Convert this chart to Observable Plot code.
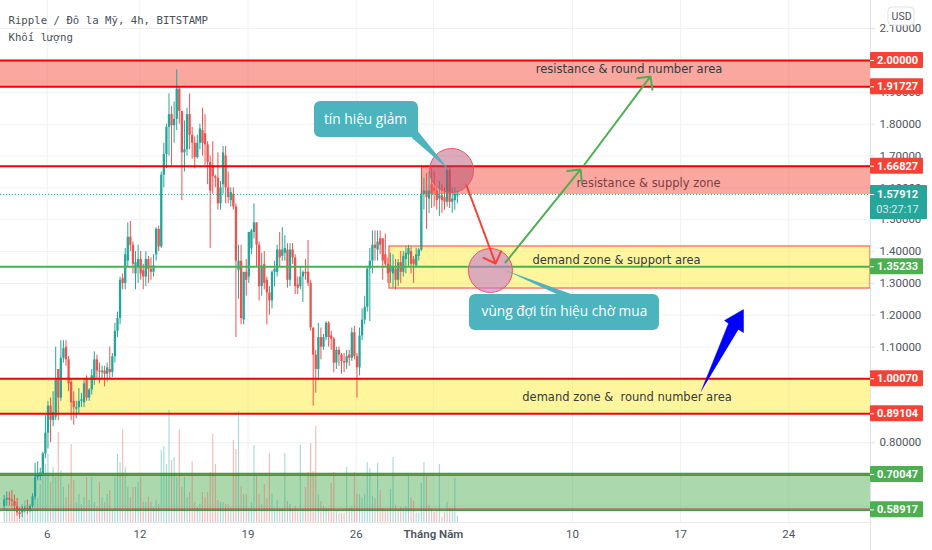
<!DOCTYPE html>
<html>
<head>
<meta charset="utf-8">
<script src="https://cdn.jsdelivr.net/npm/d3@7"></script>
<script src="https://cdn.jsdelivr.net/npm/@observablehq/plot@0.6"></script>
<style>html,body{margin:0;padding:0;background:#fff}svg{display:block}</style>
</head>
<body>
<div id="chart"></div>
<script>
const firstDay = 6 - 16.7 / 6;
const barsPerDay = 6;
const opens = [
.60,.62,.625,.62,.615,.60,.58,.58,.59,.592,
.585,.60,.63,.69,.695,.70,.765,.83,.915,.87,
.88,1.03,.94,1.065,1.10,1.06,.99,.93,.905,.91,
.93,.925,1.00,.94,.965,.995,1.06,1.025,1.02,1.025,
1.015,1.03,1.02,1.07,1.15,1.19,1.315,1.30,1.37,1.445,
1.42,1.33,1.35,1.375,1.34,1.32,1.375,1.345,1.335,1.39,
1.47,1.415,1.64,1.705,1.79,1.83,1.795,1.815,1.91,1.84,
1.71,1.72,1.83,1.765,1.74,1.695,1.74,1.78,1.77,1.735,
1.68,1.67,1.635,1.63,1.55,1.61,1.70,1.60,1.56,1.58,
1.54,1.34,1.37,1.185,1.335,1.32,1.41,1.46,1.49,1.42,
1.29,1.36,1.31,1.27,1.245,1.335,1.335,1.405,1.385,1.395,
1.405,1.31,1.405,1.38,1.295,1.29,1.32,1.335,1.335,1.30,
1.16,1.075,1.03,1.13,1.10,1.13,1.175,1.135,1.125,1.05,
1.09,1.075,1.055,1.05,1.075,1.065,1.145,1.07,1.035,1.135,
1.185,1.225,1.345,1.37,1.42,1.405,1.44,1.44,1.39,1.36,
1.335,1.33,1.345,1.31,1.365,1.335,1.375,1.39,1.40,1.375,
1.355,1.385,1.405,1.58,1.59,1.565,1.61,1.60,1.59,1.565,
1.575,1.57,1.555,1.655,1.555,1.56,1.575];
const closes = [
.62,.625,.62,.615,.60,.58,.575,.59,.592,.585,
.60,.63,.69,.70,.705,.765,.83,.915,.87,.895,
1.00,.94,1.065,1.095,1.06,.985,.925,.91,.91,.93,
.935,.985,.94,.965,1.01,1.06,1.025,1.022,1.025,1.015,
1.035,1.02,1.07,1.15,1.19,1.31,1.30,1.39,1.445,1.42,
1.36,1.365,1.375,1.33,1.32,1.375,1.345,1.335,1.355,1.47,
1.415,1.64,1.705,1.79,1.83,1.795,1.815,1.91,1.84,1.71,
1.72,1.83,1.765,1.74,1.695,1.74,1.785,1.74,1.735,1.68,
1.59,1.635,1.63,1.55,1.60,1.71,1.60,1.57,1.585,1.54,
1.37,1.37,1.19,1.335,1.31,1.46,1.465,1.49,1.42,1.29,
1.355,1.30,1.27,1.245,1.335,1.345,1.405,1.38,1.405,1.41,
1.31,1.405,1.38,1.29,1.285,1.32,1.335,1.33,1.30,1.16,
1.075,1.03,1.13,1.10,1.13,1.175,1.13,1.125,1.05,1.09,
1.075,1.055,1.05,1.07,1.065,1.145,1.07,1.035,1.135,1.185,
1.225,1.345,1.37,1.42,1.41,1.43,1.42,1.37,1.36,1.33,
1.355,1.35,1.31,1.365,1.335,1.385,1.395,1.41,1.36,1.36,
1.39,1.405,1.58,1.59,1.57,1.59,1.58,1.59,1.56,1.575,
1.56,1.555,1.655,1.555,1.565,1.58,1.579];
const highs = [
.635,.645,.645,.65,.635,.625,.595,.60,.60,.62,
.605,.64,.735,.74,.72,.77,.885,.93,.94,.96,
1.10,1.03,1.12,1.12,1.12,1.07,1.00,.96,.93,.97,
.955,1.00,1.01,.97,1.03,1.085,1.075,1.05,1.04,1.04,
1.05,1.10,1.08,1.175,1.21,1.32,1.33,1.41,1.49,1.495,
1.43,1.40,1.42,1.40,1.36,1.40,1.385,1.38,1.39,1.475,
1.48,1.65,1.74,1.80,1.895,1.855,1.87,1.97,1.915,1.84,
1.81,1.85,1.895,1.79,1.76,1.765,1.80,1.85,1.83,1.745,
1.70,1.745,1.64,1.71,1.62,1.73,1.73,1.65,1.60,1.60,
1.55,1.42,1.42,1.335,1.375,1.46,1.47,1.55,1.49,1.43,
1.395,1.40,1.32,1.29,1.34,1.37,1.42,1.46,1.475,1.45,
1.425,1.425,1.425,1.39,1.32,1.35,1.34,1.375,1.435,1.31,
1.16,1.09,1.175,1.16,1.14,1.18,1.18,1.15,1.13,1.10,
1.10,1.08,1.08,1.09,1.09,1.16,1.165,1.08,1.16,1.22,
1.26,1.35,1.41,1.465,1.465,1.465,1.465,1.44,1.455,1.38,
1.395,1.39,1.375,1.375,1.40,1.40,1.415,1.42,1.415,1.385,
1.41,1.41,1.59,1.63,1.645,1.65,1.66,1.65,1.60,1.62,
1.61,1.60,1.665,1.665,1.60,1.60,1.59];
const lows = [
.59,.60,.60,.60,.585,.57,.56,.565,.58,.575,
.58,.595,.62,.68,.68,.695,.75,.78,.80,.85,
.87,.87,.93,1.05,1.04,.96,.87,.855,.875,.89,
.91,.91,.93,.93,.95,.98,1.00,.985,1.00,.975,
.99,1.00,1.005,1.05,1.13,1.17,1.28,1.28,1.35,1.40,
1.33,1.28,1.30,1.31,1.28,1.29,1.30,1.31,1.32,1.37,
1.40,1.41,1.60,1.66,1.70,1.67,1.74,1.78,1.80,1.56,
1.65,1.70,1.72,1.69,1.66,1.69,1.72,1.70,1.67,1.61,
1.41,1.58,1.60,1.53,1.53,1.58,1.55,1.55,1.54,1.53,
1.13,1.25,1.17,1.17,1.26,1.30,1.39,1.44,1.35,1.245,
1.26,1.28,1.17,1.20,1.22,1.29,1.32,1.35,1.37,1.37,
1.285,1.29,1.36,1.265,1.265,1.28,1.24,1.31,1.29,1.15,
.915,.955,.995,1.06,1.09,1.12,1.10,1.09,1.02,1.03,
1.04,1.015,1.02,1.03,1.04,1.055,1.06,.94,1.01,1.12,
1.17,1.21,1.18,1.33,1.37,1.37,1.39,1.31,1.35,1.30,
1.30,1.285,1.28,1.29,1.30,1.32,1.33,1.35,1.33,1.30,
1.35,1.37,1.40,1.53,1.47,1.52,1.535,1.54,1.53,1.51,
1.52,1.53,1.54,1.535,1.52,1.53,1.55];
const volumes = [
10,14,12,18,14,20,12,18,22,12,
16,22,48,24,38,48,58,68,40,55,
45,90,52,35,25,38,78,42,20,28,
18,25,45,22,45,20,15,40,25,20,
28,32,12,45,68,60,93,55,35,25,
35,35,40,45,20,20,25,20,15,22,
18,72,76,58,112,62,65,45,93,35,
45,25,30,61,20,15,18,30,25,30,
50,88,58,22,20,20,18,18,15,82,
73,111,36,28,28,14,20,77,46,28,
18,38,24,69,28,14,22,14,14,69,
21,18,13,16,13,77,13,35,50,79,
51,96,28,21,16,14,14,39,50,11,
9,9,9,55,14,16,50,28,28,24,
28,60,54,26,24,59,32,14,13,14,
33,65,17,11,15,14,16,46,24,21,
9,9,39,60,46,17,14,10,12,58,
5,10,20,14,13,44,6];

const xDomain = [2.977, 59.29];
const yDomain = [0.5495, 2.1883];
const axisEnd = 59.29, tagEnd = 62.72, liveTagEnd = 62.98, tagCenter = 61.04, tagTickEnd = 59.55;
const volumeUnit = 1 / 318.5;

const priceGrid = [0.6,0.7,0.8,0.9,1.0,1.1,1.2,1.3,1.4,1.5,1.6,1.7,1.8,1.9,2.0,2.1];
const priceLabels = [0.8,1.1,1.2,1.3,1.4,1.5,1.6,1.7,1.8,1.9,2.1];
const dayTicks = [6,12,19,26,40,47,54];
const gridDays = [6,12,19,26,31,40,47,54];
const monthTick = [31];

const levels = {
  res2: 2.00000, res19: 1.91727, res166: 1.66827, last: 1.57912,
  sup135: 1.35233, sup100: 1.00070, sup89: 0.89104, dem70: 0.70047, dem58: 0.58917
};
const zones = [
  {x1: xDomain[0], x2: axisEnd, y1: levels.res19, y2: levels.res2, fill: "rgb(244,67,54)", op: .47},
  {x1: 30.23, x2: axisEnd, y1: levels.last, y2: levels.res166, fill: "rgb(244,67,54)", op: .47},
  {x1: 28.155, x2: axisEnd, y1: 1.284, y2: 1.416, fill: "rgb(255,235,59)", op: .5},
  {x1: xDomain[0], x2: axisEnd, y1: levels.sup89, y2: levels.sup100, fill: "rgb(255,235,59)", op: .5},
  {x1: xDomain[0], x2: axisEnd, y1: levels.dem58, y2: levels.dem70, fill: "rgb(76,175,80)", op: .47}
];
const redLines = [levels.res2, levels.res19, levels.res166, levels.sup100, levels.sup89];
const tags = [
  {p: levels.res2, c: "#f44336"}, {p: levels.res19, c: "#f44336"}, {p: levels.res166, c: "#f44336"},
  {p: levels.sup135, c: "#4caf50"}, {p: levels.sup100, c: "#f44336"}, {p: levels.sup89, c: "#f44336"},
  {p: levels.dem70, c: "#4caf50"}, {p: levels.dem58, c: "#4caf50"}
];
const tagHalf = 0.0251;
const zoneLabels = [
  {x: 43.66, y: 1.9717, t: "resistance & round number area", c: "#333a40"},
  {x: 44.92, y: 1.6138, t: "resistance & supply zone", c: "#7b3f42"},
  {x: 42.85, y: 1.3721, t: "demand zone & support area", c: "#333a40"},
  {x: 43.53, y: 0.9435, t: "demand zone &  round number area", c: "#333a40"}
];
const circles = [
  {x: 32.17, y: 1.6546, fill: "#af4268", op: .45},
  {x: 34.69, y: 1.3407, fill: "#c378cf", op: .6}
];
const arrows = [
  {x1: 33.14, y1: 1.6075, x2: 35.02, y2: 1.3626, c: "#f44336"},
  {x1: 35.66, y1: 1.3658, x2: 40.52, y2: 1.6578, c: "#4caf50"},
  {x1: 40.78, y1: 1.6735, x2: 45.05, y2: 1.9498, c: "#4caf50"}
];
const blueArrow = [
  {x: 48.33, y: 0.9617}, {x: 50.1, y: 1.1743}, {x: 49.84, y: 1.1837},
  {x: 51.07, y: 1.2182}, {x: 51.07, y: 1.146}, {x: 50.74, y: 1.1554}
];
const callouts = [
  {x1: 23.3, x2: 30.03, y1: 1.7582, y2: 1.8713},
  {x1: 33.33, x2: 45.63, y1: 1.1523, y2: 1.2653}
];
const calloutTexts = [
  {x: 26.6, y: 1.8148, t: "tín hiệu giảm"},
  {x: 39.48, y: 1.2119, t: "vùng đợi tín hiệu chờ mua"}
];
const pointerA = [{x: 29.9, y: 1.7834}, {x: 32.04, y: 1.6546}, {x: 29.58, y: 1.7582}];
const pointerB = [{x: 39.03, y: 1.2653}, {x: 35.53, y: 1.3438}, {x: 40.0, y: 1.2653}];
const titleLines = ["Ripple / Đô la Mỹ, 4h, BITSTAMP", "Khối lượng"];

const bars = opens.map((o, i) => ({
  day: firstDay + i / barsPerDay, o, c: closes[i], h: highs[i], l: lows[i], v: volumes[i],
  col: closes[i] >= o ? "#26a69a" : "#ef5350"
}));
const bottom = yDomain[0];
const grey = "#4f5560";

const chart = Plot.plot({
  width: 932, height: 550,
  marginLeft: 0, marginTop: 0, marginRight: 62, marginBottom: 28,
  x: {domain: xDomain, axis: null},
  y: {domain: yDomain, axis: null},
  style: {fontFamily: "Roboto, sans-serif", background: "#fff", overflow: "visible"},
  marks: [
    Plot.ruleY(priceGrid, {stroke: "#f0f1f4", strokeWidth: 1}),
    Plot.ruleX(gridDays, {stroke: "#f0f1f4", strokeWidth: 1, y1: bottom, y2: yDomain[1]}),
    Plot.ruleY([bottom], {stroke: "#e6e8ee"}),
    Plot.rect(zones, {x1: "x1", x2: "x2", y1: "y1", y2: "y2", fill: "fill", fillOpacity: "op"}),
    Plot.ruleX(bars, {x: "day", y1: bottom, y2: d => bottom + d.v * volumeUnit, stroke: "col", strokeWidth: 1.1, strokeOpacity: .42}),
    Plot.ruleX(bars, {x: "day", y1: "l", y2: "h", stroke: "col", strokeWidth: 1}),
    Plot.ruleX(bars, {x: "day", y1: "o", y2: "c", stroke: "col", strokeWidth: 2.3}),
    Plot.rect(zones.slice(2, 3), {x1: "x1", x2: "x2", y1: "y1", y2: "y2", stroke: "#f44336", strokeWidth: 1, fill: "none"}),
    Plot.ruleX([zones[1].x1], {y1: levels.last, y2: levels.res166, stroke: "#f44336", strokeWidth: 1}),
    Plot.ruleY(redLines, {stroke: "#f40000", strokeWidth: 2, x1: xDomain[0], x2: axisEnd}),
    Plot.ruleY([levels.dem70], {stroke: "#d31f1f", strokeWidth: 1, dy: 0.8, x1: xDomain[0], x2: axisEnd}),
    Plot.ruleY([levels.dem70], {stroke: "#3f9c45", strokeWidth: 2, dy: -0.6, x1: xDomain[0], x2: axisEnd}),
    Plot.ruleY([levels.dem58], {stroke: "#d31f1f", strokeWidth: 1, dy: -0.8, x1: xDomain[0], x2: axisEnd}),
    Plot.ruleY([levels.dem58], {stroke: "#3f9c45", strokeWidth: 1.6, dy: 0.4, x1: xDomain[0], x2: axisEnd}),
    Plot.ruleY([levels.sup135], {stroke: "#4caf50", strokeWidth: 2, x1: xDomain[0], x2: axisEnd}),
    Plot.ruleY([levels.last], {stroke: "#26a69a", strokeWidth: 1, strokeDasharray: "1 2", x1: xDomain[0], x2: axisEnd}),
    Plot.text(zoneLabels, {x: "x", y: "y", text: "t", fill: "c", fontSize: 11.5, fontFamily: "DejaVu Sans", stroke: "none"}),
    Plot.dot(circles, {x: "x", y: "y", r: 22, fill: "fill", fillOpacity: "op", stroke: "#ec5468", strokeWidth: 1}),
    Plot.arrow(arrows, {x1: "x1", y1: "y1", x2: "x2", y2: "y2", stroke: "c", strokeWidth: 2, headLength: 10, headAngle: 90, bend: 0}),
    Plot.line(blueArrow, {x: "x", y: "y", fill: "#0000ff", stroke: "#0000ff", strokeWidth: .5}),
    Plot.line(pointerA, {x: "x", y: "y", fill: "#4cb3bf", stroke: "none"}),
    Plot.line(pointerB, {x: "x", y: "y", fill: "#4cb3bf", stroke: "none"}),
    Plot.rect(callouts, {x1: "x1", x2: "x2", y1: "y1", y2: "y2", fill: "#4cb3bf", rx: 6}),
    Plot.text(calloutTexts, {x: "x", y: "y", text: "t", fill: "#fff", fontSize: 13.7, fontFamily: "Open Sans"}),
    Plot.ruleX([axisEnd], {y1: 0.4616, y2: yDomain[1], stroke: "#dfe2e8", strokeWidth: 1}),
    Plot.axisY(priceGrid, {anchor: "right", label: null, text: null, tickSize: 4, stroke: "#dfe2e8"}),
    Plot.axisY(priceLabels, {anchor: "right", label: null, tickSize: 0, tickPadding: 9, fill: grey, fontSize: 11.5, tickFormat: d => d.toFixed(5)}),
    Plot.axisX(dayTicks, {anchor: "bottom", label: null, tickSize: 0, tickPadding: 7, fill: grey, fontSize: 11.5, tickFormat: d => String(d > 31 ? d - 30 : d)}),
    Plot.axisX(monthTick, {anchor: "bottom", label: null, tickSize: 0, tickPadding: 7, fill: grey, fontSize: 11.5, fontWeight: 600, tickFormat: () => "Tháng Năm"}),
    Plot.rect(tags, {x1: axisEnd, x2: tagEnd, y1: d => d.p - tagHalf, y2: d => d.p + tagHalf, fill: "c", rx: 1}),
    Plot.ruleY(tags, {y: "p", x1: axisEnd, x2: tagTickEnd, stroke: "#fff"}),
    Plot.text(tags, {x: tagCenter, y: "p", text: d => d.p.toFixed(5), fill: "#fff", fontSize: 11, fontWeight: 700}),
    Plot.rect([{}], {x1: axisEnd, x2: liveTagEnd, y1: 1.5008, y2: 1.6075, fill: "#26a69a", rx: 1}),
    Plot.ruleY([levels.last], {x1: axisEnd, x2: tagTickEnd, stroke: "#fff"}),
    Plot.text([levels.last], {x: tagCenter, y: d => d, text: d => d.toFixed(5), fill: "#fff", fontSize: 11, fontWeight: 700}),
    Plot.text(["03:27:17"], {x: tagCenter, y: 1.5322, text: d => d, fill: "#cdeee9", fontSize: 11}),
    Plot.rect([{}], {x1: 60.45, x2: 62.14, y1: 2.1099, y2: 2.1664, fill: "#fff", stroke: "#dfe2e8", rx: 4}),
    Plot.text(["USD"], {x: 61.3, y: 2.138, text: d => d, fill: "#4a4f5a", fontSize: 10.5}),
    Plot.text([titleLines[0]], {text: d => d, frameAnchor: "top-left", dx: 8, dy: 16, fill: "#4a4f5a", fontSize: 10.7, fontFamily: "DejaVu Sans Mono"}),
    Plot.text([titleLines[1]], {text: d => d, frameAnchor: "top-left", dx: 8, dy: 33, fill: "#4a4f5a", fontSize: 10.7, fontFamily: "DejaVu Sans Mono"})
  ]
});
document.getElementById("chart").appendChild(chart);
</script>
</body>
</html>
